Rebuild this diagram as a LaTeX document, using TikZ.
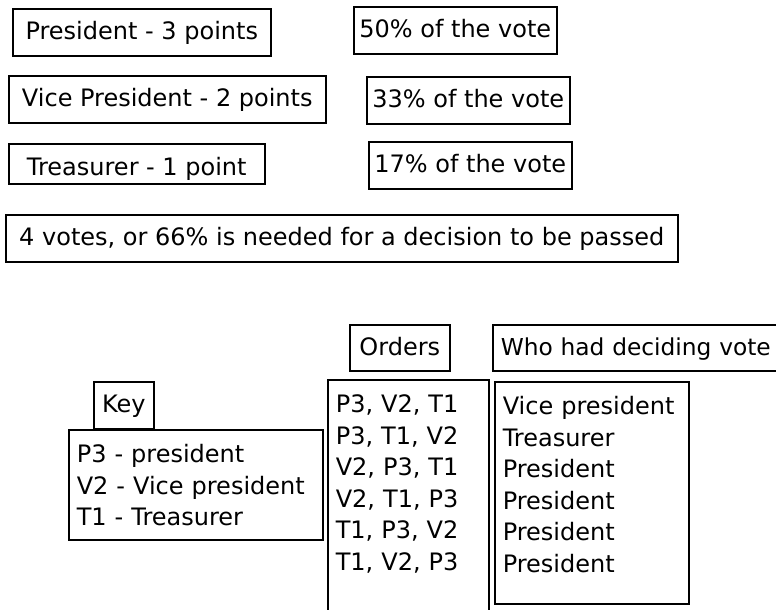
\documentclass[tikz,border=0pt]{standalone}
\usepackage{fontspec}
\setmainfont{DejaVu Sans}
\pgfdeclarelayer{nodelayer}
\pgfsetlayers{main,nodelayer}
\tikzset{box/.style={draw, line width=1.6pt, anchor=north west, inner xsep=0pt, inner ysep=8pt,
text height=23pt, text depth=8pt, font=\fontsize{24}{31.5}\selectfont}}
\tikzset{list/.style={draw, line width=1.6pt, anchor=north west, inner xsep=8pt, inner ysep=8pt,
align=left, text height=25pt, font=\fontsize{24}{31.5}\selectfont}}
\begin{document}
\begin{tikzpicture}[x=1pt, y=-1pt]
        \useasboundingbox (0, 0) rectangle (776, 610);
        \clip (0, 0) rectangle (776, 610);
        \begin{pgfonlayer}{nodelayer}
            \node [style=box, minimum width=258] (0) at (12, 8) {President - 3 points};
            \node [style=box, minimum width=317] (1) at (8, 75) {Vice President - 2 points};
            \node [style=box, minimum width=256, text height=24pt, text depth=0pt] (2) at (8, 143) {Treasurer - 1 point};
            \node [style=box, minimum width=203] (3) at (353, 6) {50\% of the vote};
            \node [style=box, minimum width=203] (4) at (366, 76) {33\% of the vote};
            \node [style=box, minimum width=203] (5) at (368, 141) {17\% of the vote};
            \node [style=box, minimum width=672] (6) at (5, 214) {4 votes, or 66\% is needed for a decision to be passed};
            \node [style=box, minimum width=100, text depth=7pt] (7) at (349, 324) {Orders};
            \node [style=list, text width=284, text height=23pt, text depth=7pt,
                   font=\fontsize{23.3}{31.5}\selectfont] (8) at (492, 324) {Who had deciding vote};
            \node [style=box, minimum width=60] (9) at (93, 381) {Key};
            \node [style=list, text width=238, text depth=69pt] (10) at (68, 429) {P3 - president\\V2 - Vice president\\T1 - Treasurer};
            \node [style=list, text width=145, text depth=220pt] (11) at (327, 379) {P3, V2, T1\\P3, T1, V2\\V2, P3, T1\\V2, T1, P3\\T1, P3, V2\\T1, V2, P3};
            \node [style=list, text width=178, text depth=181pt] (12) at (494, 381) {Vice president\\Treasurer\\President\\President\\President\\President};
        \end{pgfonlayer}
    \end{tikzpicture}
\end{document}
